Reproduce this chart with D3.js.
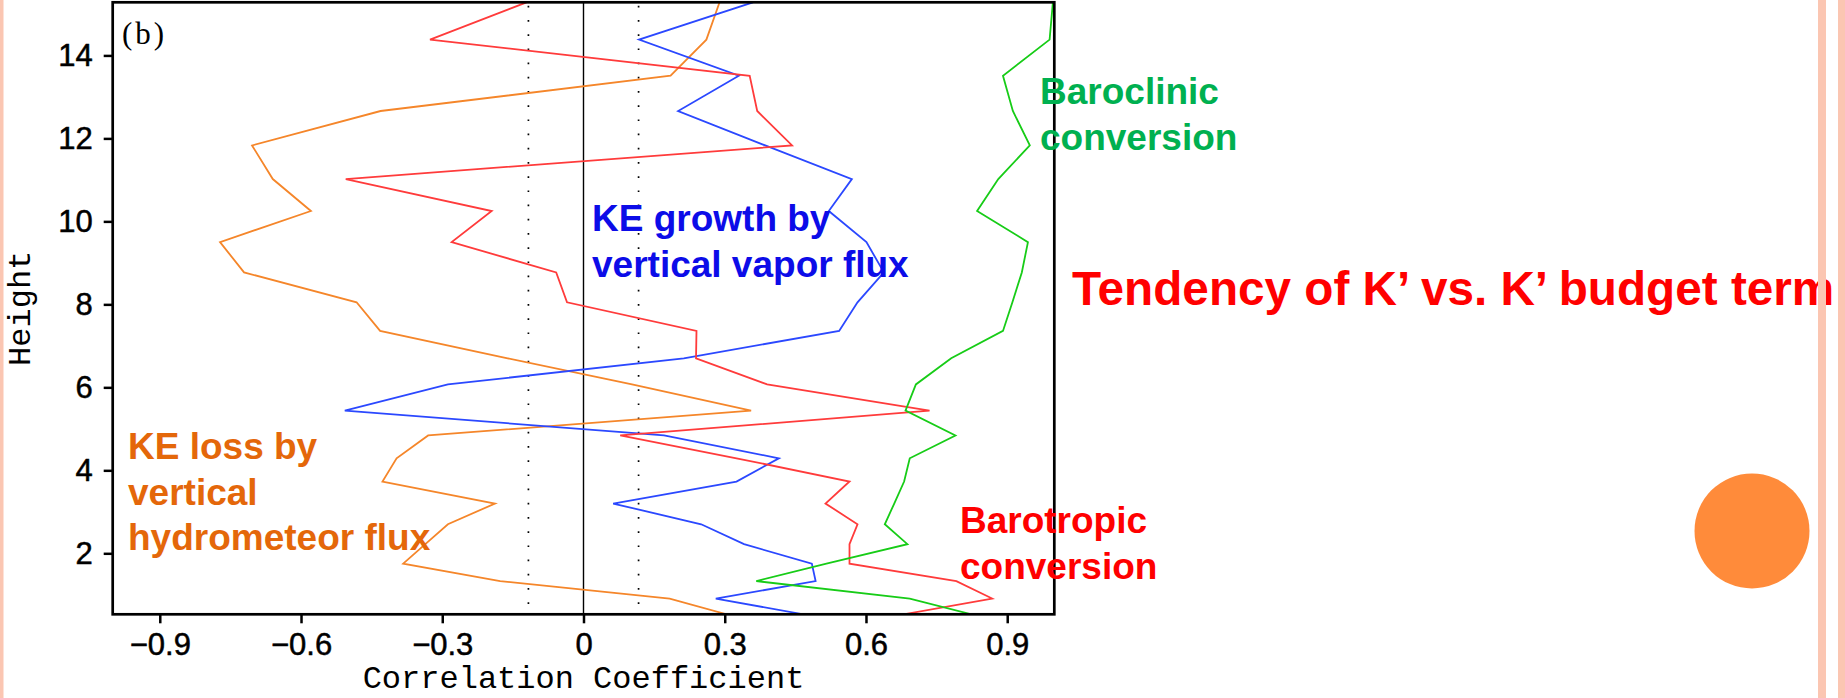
<!DOCTYPE html>
<html>
<head>
<meta charset="utf-8">
<script src="https://cdn.jsdelivr.net/npm/d3@7"></script>
<style>
  body { margin: 0; background: #ffffff; }
  svg { display: block; }
</style>
</head>
<body>
<svg id="chart" width="1845" height="698"></svg>
<script>
// Model levels (km) at which the correlation profiles are given
const heights = [0.53, 0.91, 1.33, 1.75, 2.22, 2.70, 3.20, 3.73, 4.29, 4.84, 5.44, 6.07,
                 6.70, 7.36, 8.05, 8.77, 9.50, 10.25, 11.02, 11.83, 12.66, 13.51, 14.38, 15.28];

// Correlation of K' tendency with each K' budget term, one value per level
const barotropic = [0.680, 0.868, 0.792, 0.565, 0.565, 0.582, 0.514, 0.565, 0.325, 0.078, 0.735, 0.390,
                    0.239, 0.240, -0.035, -0.058, -0.280, -0.195, -0.505, 0.443, 0.369, 0.353, -0.326, -0.121];
const baroclinic = [0.824, 0.693, 0.367, 0.516, 0.688, 0.640, 0.660, 0.681, 0.693, 0.790, 0.684, 0.706,
                    0.781, 0.891, 0.911, 0.931, 0.944, 0.836, 0.881, 0.948, 0.912, 0.891, 0.990, 0.997];
const vaporFlux = [0.467, 0.281, 0.493, 0.485, 0.341, 0.250, 0.063, 0.325, 0.415, 0.171, -0.507, -0.288,
                   0.213, 0.543, 0.582, 0.638, 0.601, 0.521, 0.570, 0.386, 0.201, 0.330, 0.118, 0.360];
const hydroFlux = [0.304, 0.183, -0.177, -0.383, -0.336, -0.288, -0.188, -0.427, -0.397, -0.330, 0.356, 0.103,
                   -0.161, -0.432, -0.482, -0.721, -0.772, -0.579, -0.660, -0.704, -0.431, 0.185, 0.261, 0.289];

const xTicks = [-0.9, -0.6, -0.3, 0, 0.3, 0.6, 0.9];
const yTicks = [2, 4, 6, 8, 10, 12, 14];
const sigLevel = 0.117;   // significance threshold drawn as dotted lines

const series = [
  { name: "hydro",      values: hydroFlux,  color: "#f5862a" },
  { name: "vapor",      values: vaporFlux,  color: "#2b48ff" },
  { name: "barotropic", values: barotropic, color: "#ff3b3b" },
  { name: "baroclinic", values: baroclinic, color: "#17cc17" }
];

const svg = d3.select("#chart");

const plotLeft = 112.7, plotRight = 1054.3, plotTop = 2.3, plotBottom = 614.3;
const x = d3.scaleLinear().domain([-1, 1]).range([plotLeft, plotRight]);
const y = d3.scaleLinear().domain([0.53, 15.28]).range([plotBottom, plotTop]);

// slide decoration: pink rule on the left
svg.append("rect").attr("x", 0).attr("y", 0).attr("width", 3.5).attr("height", 698).attr("fill", "#fbc6b2");

svg.append("defs").append("clipPath").attr("id", "plot-clip")
  .append("rect").attr("x", plotLeft).attr("y", plotTop)
  .attr("width", plotRight - plotLeft).attr("height", plotBottom - plotTop);

// zero line
svg.append("line")
  .attr("x1", x(0)).attr("x2", x(0)).attr("y1", plotTop).attr("y2", plotBottom)
  .attr("stroke", "#000").attr("stroke-width", 1.4);

// significance lines
svg.selectAll("line.sig").data([-sigLevel, sigLevel]).join("line")
  .attr("class", "sig")
  .attr("x1", d => x(d)).attr("x2", d => x(d))
  .attr("y1", plotTop + 3.5).attr("y2", plotBottom)
  .attr("stroke", "#000").attr("stroke-width", 1.7)
  .attr("stroke-dasharray", "1.7 12.5");

// profiles
const line = d3.line()
  .x(d => x(d.v))
  .y(d => y(d.h));

svg.append("g").attr("clip-path", "url(#plot-clip)")
  .selectAll("path").data(series).join("path")
  .attr("d", s => line(s.values.map((v, i) => ({ v, h: heights[i] }))))
  .attr("fill", "none")
  .attr("stroke", s => s.color)
  .attr("stroke-width", 1.8)
  .attr("stroke-linejoin", "miter");

// axes
const fmtX = d => d === 0 ? "0" : d3.format(".1f")(d);
const xAxis = svg.append("g")
  .attr("transform", `translate(0,${plotBottom})`)
  .call(d3.axisBottom(x).tickValues(xTicks).tickFormat(fmtX).tickSize(9).tickPadding(10));
const yAxis = svg.append("g")
  .attr("transform", `translate(${plotLeft},0)`)
  .call(d3.axisLeft(y).tickValues(yTicks).tickFormat(d3.format("d")).tickSize(9).tickPadding(11));

[xAxis, yAxis].forEach(g => {
  g.select(".domain").remove();
  g.selectAll(".tick line").attr("stroke", "#000").attr("stroke-width", 2.5);
  g.selectAll(".tick text")
    .attr("fill", "#000")
    .attr("stroke", "#000")
    .attr("stroke-width", 0.5)
    .style("font-family", "'Liberation Sans', Arial, sans-serif")
    .style("font-size", "31px");
});

// frame
svg.append("rect")
  .attr("x", plotLeft).attr("y", plotTop)
  .attr("width", plotRight - plotLeft).attr("height", plotBottom - plotTop)
  .attr("fill", "none").attr("stroke", "#000").attr("stroke-width", 2.7);

// axis titles
svg.append("text")
  .attr("x", (plotLeft + plotRight) / 2).attr("y", 688)
  .attr("text-anchor", "middle")
  .style("font-family", "'Liberation Mono', 'Courier New', monospace")
  .style("font-size", "32px")
  .text("Correlation Coefficient");

svg.append("text")
  .attr("transform", `translate(30,${(plotTop + plotBottom) / 2}) rotate(-90)`)
  .attr("text-anchor", "middle")
  .style("font-family", "'Liberation Mono', 'Courier New', monospace")
  .style("font-size", "32px")
  .text("Height");

svg.append("text")
  .attr("x", 122).attr("y", 44)
  .style("font-family", "'Liberation Serif', serif")
  .style("font-size", "31px")
  .style("letter-spacing", "3px")
  .text("(b)");

// term annotations
const notes = [
  { lines: ["KE growth by", "vertical vapor flux"], x: 592, y: 231, color: "#0c0ce8" },
  { lines: ["KE loss by", "vertical", "hydrometeor flux"], x: 128, y: 459, color: "#e4670a" },
  { lines: ["Baroclinic", "conversion"], x: 1040, y: 104, color: "#00b050" },
  { lines: ["Barotropic", "conversion"], x: 960, y: 533, color: "#ff0000" }
];
notes.forEach(n => {
  const t = svg.append("text")
    .attr("x", n.x).attr("y", n.y)
    .attr("fill", n.color)
    .style("font-family", "'Liberation Sans', Arial, sans-serif")
    .style("font-weight", "bold")
    .style("font-size", "37px");
  t.selectAll("tspan").data(n.lines).join("tspan")
    .attr("x", n.x)
    .attr("dy", (d, i) => i === 0 ? 0 : 45.5)
    .text(d => d);
});

svg.append("text")
  .attr("x", 1072).attr("y", 305)
  .attr("fill", "#ff0000")
  .style("font-family", "'Liberation Sans', Arial, sans-serif")
  .style("font-weight", "bold")
  .style("font-size", "47.7px")
  .text("Tendency of K\u2019 vs. K\u2019 budget term");

// bullet dot
svg.append("circle").attr("cx", 1752).attr("cy", 531).attr("r", 57.5).attr("fill", "#ff8b3a");

// slide decoration: double rule on the right
svg.append("rect").attr("x", 1818).attr("y", 0).attr("width", 8).attr("height", 698).attr("fill", "#fbc6b2");
svg.append("rect").attr("x", 1838).attr("y", 0).attr("width", 7).attr("height", 698).attr("fill", "#fbc6b2");
</script>
</body>
</html>
